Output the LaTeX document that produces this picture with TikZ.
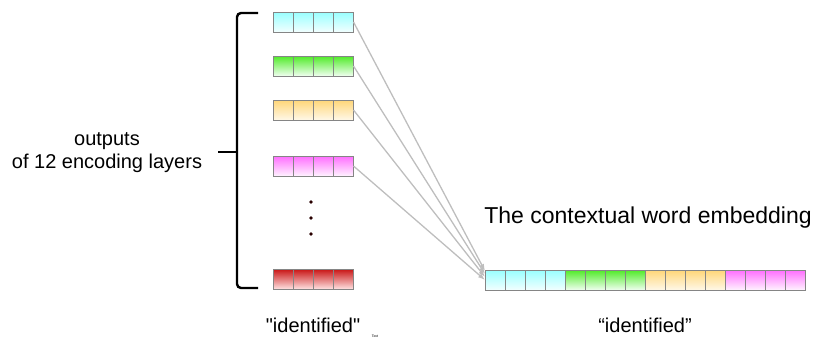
\documentclass[tikz,border=0pt]{standalone}
\usepackage{fontspec}
\setmainfont{Liberation Sans}
% same face without the TeX input mapping, for straight double quotes
\newfontfamily\rawsans{Liberation Sans}
\usetikzlibrary{arrows.meta}
\definecolor{cellline}{HTML}{858585}
\definecolor{connline}{HTML}{BEBEBE}
\tikzset{
  vec/.style={draw=cellline, line width=1pt, minimum width=80pt, minimum height=20pt, inner sep=0pt,
    path picture={\foreach \k in {1,2,3}
      \draw[cellline, line width=0.8pt] ([xshift=\k*20pt]path picture bounding box.south west) -- ([xshift=\k*20pt]path picture bounding box.north west);}},
  cyanvec/.style={vec, top color=cyan!40, bottom color=cyan!5},
  greenvec/.style={vec, top color={rgb,255:red,80;green,235;blue,40}, bottom color=green!6},
  orangevec/.style={vec, top color={rgb,255:red,255;green,214;blue,120}, bottom color={rgb,255:red,255;green,248;blue,232}},
  magentavec/.style={vec, top color={rgb,255:red,255;green,110;blue,255}, bottom color=magenta!5},
  redvec/.style={vec, top color={rgb,255:red,200;green,20;blue,20}, bottom color={rgb,255:red,255;green,225;blue,225}},
  conn/.style={connline, line width=1.3pt, -{Latex[length=7pt,width=5pt]}},
  lbl/.style={font=\fontsize{20}{22}\selectfont, inner sep=0pt}
}
\begin{document}
\begin{tikzpicture}[x=1pt, y=-1pt]
\useasboundingbox (0,0) rectangle (821,340);

% per-layer output vectors
\node[cyanvec]    (b1) at (313,22)  {};
\node[greenvec]   (b2) at (313,66)  {};
\node[orangevec]  (b3) at (313,110) {};
\node[magentavec] (b4) at (313,166) {};
\node[redvec]     (b5) at (313,279) {};

% vertical ellipsis
\foreach \yy in {202,218,234}
  \fill[black!60!red!40!black] (311,\yy) circle (1.9pt);

% concatenated embedding
\node[cyanvec]    (w1) at (525,280) {};
\node[greenvec]   (w2) at (605,280) {};
\node[orangevec]  (w3) at (685,280) {};
\node[magentavec] (w4) at (765,280) {};

% arrow targets on the left edge of the embedding
\coordinate (t1) at (485,271);
\coordinate (t2) at (485,274);
\coordinate (t3) at (485,277);
\coordinate (t4) at (485,280);

\draw[conn] (b1.east) -- (t1);
\draw[conn] (b2.east) -- (t2);
\draw[conn] (b3.east) -- (t3);
\draw[conn] (b4.east) -- (t4);

% brace grouping the layer outputs
\draw[line width=2.4pt, rounded corners=4pt] (258,13) -- (237,13) -- (237,288) -- (258,288);
\draw[line width=2.4pt] (218,152) -- (237,152);

% labels
\node[lbl, align=center] (grp) at (107,153) {outputs\\[1pt]of 12 encoding layers};
\node[lbl] (lw) at (313,325) {\rawsans "identified"};
\node[lbl] (rw) at (645,325) {“identified”};
\node[font=\fontsize{23}{26}\selectfont, inner sep=0pt] (title) at (648,218) {The contextual word embedding};
\node[font=\fontsize{3.5}{4}\selectfont, inner sep=0pt] (tiny) at (375,336) {Text};
\end{tikzpicture}
\end{document}
